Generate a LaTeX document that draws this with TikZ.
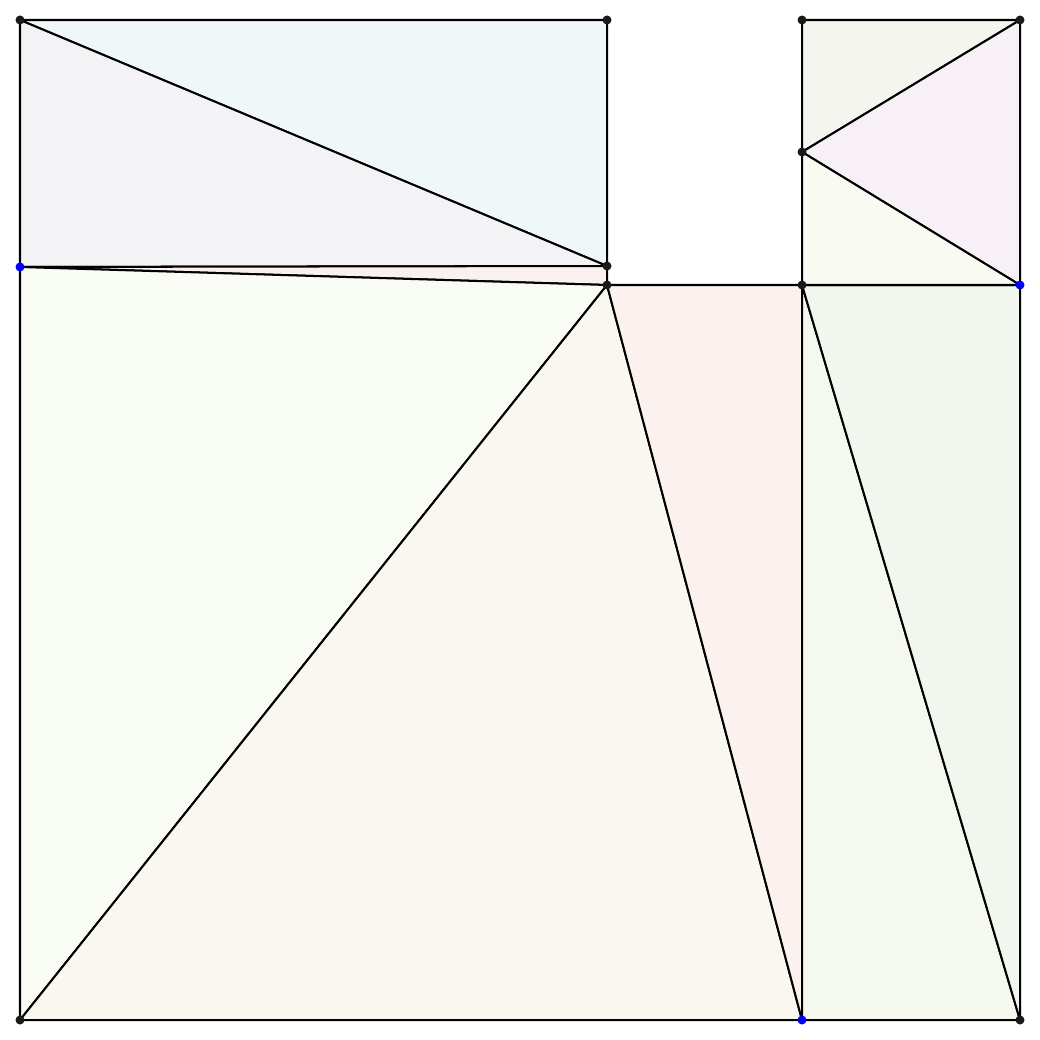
\documentclass[tikz,border=0pt]{standalone}
\definecolor{cA}{HTML}{EFF7F9}
\definecolor{cB}{HTML}{F3F3F5}
\definecolor{cC}{HTML}{FBF0F0}
\definecolor{cD}{HTML}{F9FCF4}
\definecolor{cE}{HTML}{FAF7F0}
\definecolor{cF}{HTML}{FBF2F0}
\definecolor{cG}{HTML}{F5F8EE}
\definecolor{cH}{HTML}{F1F6EF}
\definecolor{cI}{HTML}{F4F5EF}
\definecolor{cJ}{HTML}{F7F1F7}
\definecolor{cK}{HTML}{F9FAF2}
\definecolor{dotblue}{HTML}{0000FF}
\definecolor{dotblack}{HTML}{1A1A1A}
\tikzset{
  face/.style={draw=black, line width=1.15pt, line join=round},
  vdot/.style={fill=dotblack, draw=none},
  bdot/.style={fill=dotblue, draw=none}
}
\begin{document}
\begin{tikzpicture}[x=0.02cm,y=-0.02cm]
\useasboundingbox (0,0) rectangle (1040,1040);
\coordinate (A) at (20,20);
\coordinate (B) at (607,20);
\coordinate (C) at (802,20);
\coordinate (D) at (1020,20);
\coordinate (E) at (802,152);
\coordinate (F) at (20,267);
\coordinate (G) at (607,266);
\coordinate (H) at (607,285);
\coordinate (I) at (802,285);
\coordinate (J) at (1020,285);
\coordinate (K) at (20,1020);
\coordinate (L) at (802,1020);
\coordinate (M) at (1020,1020);
\filldraw[face, fill=cA] (A) -- (B) -- (G) -- cycle;
\filldraw[face, fill=cB] (A) -- (G) -- (F) -- cycle;
\filldraw[face, fill=cC] (F) -- (G) -- (H) -- cycle;
\filldraw[face, fill=cD] (F) -- (H) -- (K) -- cycle;
\filldraw[face, fill=cE] (K) -- (H) -- (L) -- cycle;
\filldraw[face, fill=cF] (H) -- (I) -- (L) -- cycle;
\filldraw[face, fill=cG] (I) -- (L) -- (M) -- cycle;
\filldraw[face, fill=cH] (I) -- (J) -- (M) -- cycle;
\filldraw[face, fill=cI] (C) -- (D) -- (E) -- cycle;
\filldraw[face, fill=cJ] (E) -- (D) -- (J) -- cycle;
\filldraw[face, fill=cK] (E) -- (J) -- (I) -- cycle;
\foreach \p in {A,B,C,D,E,G,H,I,K,M} \fill[vdot] (\p) circle (4.5);
\foreach \p in {F,J,L} \fill[bdot] (\p) circle (4.5);
\end{tikzpicture}
\end{document}
